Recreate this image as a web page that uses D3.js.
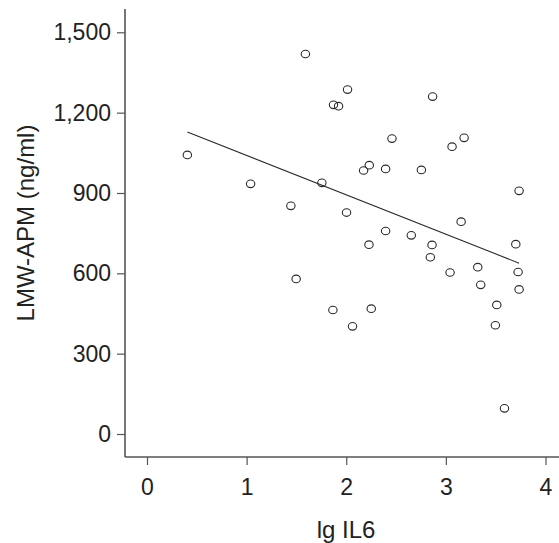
<!DOCTYPE html>
<html>
<head>
<meta charset="utf-8">
<script src="https://cdn.jsdelivr.net/npm/d3@7"></script>
<style>
  body { margin: 0; background: #fff; }
  svg { display: block; font-family: "Liberation Sans", Arial, sans-serif; }
</style>
</head>
<body>
<div id="vis"></div>
<script>
// lg IL6 vs LMW-APM
const lgIL6 = [0.405, 1.04, 1.59, 1.444, 1.755, 1.872, 1.923, 2.013, 2.867, 2.459,
  3.183, 3.062, 2.231, 2.174, 2.395, 2.754, 3.735, 2.003, 3.153, 2.395,
  2.653, 2.228, 2.861, 3.702, 2.844, 3.042, 3.32, 3.725, 3.35, 3.735,
  1.866, 2.251, 2.063, 3.511, 3.497, 3.588, 1.497];
const lmwApm = [1042, 934, 1419, 852, 938, 1229, 1224, 1286, 1260, 1103,
  1106, 1073, 1004, 984, 990, 986, 908, 827, 793, 758,
  742, 707, 706, 709, 660, 603, 623, 605, 557, 540,
  463, 468, 402, 482, 406, 96, 579];

// fitted line ends
const fitX = [0.405, 3.735];
const fitY = [1128, 638];

const xTicks = [0, 1, 2, 3, 4];
const yTicks = [0, 300, 600, 900, 1200, 1500];

const width = 559, height = 543;
// frame of the plot (axis lines)
const frame = { left: 125, top: 9, right: 559, bottom: 457 };

const x = d3.scaleLinear().domain([0, 4]).range([147, 545.5]);
const y = d3.scaleLinear().domain([0, 1500]).range([434, 32.3]);

const svg = d3.select("#vis").append("svg")
    .attr("width", width)
    .attr("height", height);

const axisColor = "#555";

// y axis
const gy = svg.append("g")
    .attr("transform", "translate(" + frame.left + ",0)")
    .call(d3.axisLeft(y).tickValues(yTicks).tickSize(8).tickPadding(6)
        .tickFormat(d3.format(",")));
gy.select(".domain").remove();
gy.selectAll(".tick line").attr("stroke", axisColor).attr("stroke-width", 1.2);
gy.selectAll(".tick text").attr("font-size", 23).attr("fill", "#222")
    .attr("font-family", "Liberation Sans, Arial, sans-serif");

// x axis
const gx = svg.append("g")
    .attr("transform", "translate(0," + frame.bottom + ")")
    .call(d3.axisBottom(x).tickValues(xTicks).tickSize(8).tickPadding(14)
        .tickFormat(d3.format("d")));
gx.select(".domain").remove();
gx.selectAll(".tick line").attr("stroke", axisColor).attr("stroke-width", 1.2);
gx.selectAll(".tick text").attr("font-size", 23).attr("fill", "#222")
    .attr("font-family", "Liberation Sans, Arial, sans-serif");

// axis lines
svg.append("line")
    .attr("x1", frame.left).attr("x2", frame.left)
    .attr("y1", frame.top).attr("y2", frame.bottom)
    .attr("stroke", axisColor).attr("stroke-width", 1.6);
svg.append("line")
    .attr("x1", frame.left).attr("x2", frame.right)
    .attr("y1", frame.bottom).attr("y2", frame.bottom)
    .attr("stroke", axisColor).attr("stroke-width", 1.6);

// axis titles
svg.append("text")
    .attr("x", 346).attr("y", 538)
    .attr("text-anchor", "middle")
    .attr("font-size", 24).attr("fill", "#222")
    .text("lg IL6");

svg.append("text")
    .attr("transform", "translate(34,223) rotate(-90)")
    .attr("text-anchor", "middle")
    .attr("font-size", 24).attr("fill", "#222")
    .text("LMW-APM (ng/ml)");

// regression line
svg.append("line")
    .attr("x1", x(fitX[0])).attr("y1", y(fitY[0]))
    .attr("x2", x(fitX[1])).attr("y2", y(fitY[1]))
    .attr("stroke", "#2a2a2a").attr("stroke-width", 1.1);

// points
svg.append("g").selectAll("ellipse")
    .data(d3.range(lgIL6.length))
    .enter().append("ellipse")
    .attr("cx", i => x(lgIL6[i]))
    .attr("cy", i => y(lmwApm[i]))
    .attr("rx", 4.2)
    .attr("ry", 3.8)
    .attr("fill", "none")
    .attr("stroke", "#2a2a2a")
    .attr("stroke-width", 1.1);
</script>
</body>
</html>
